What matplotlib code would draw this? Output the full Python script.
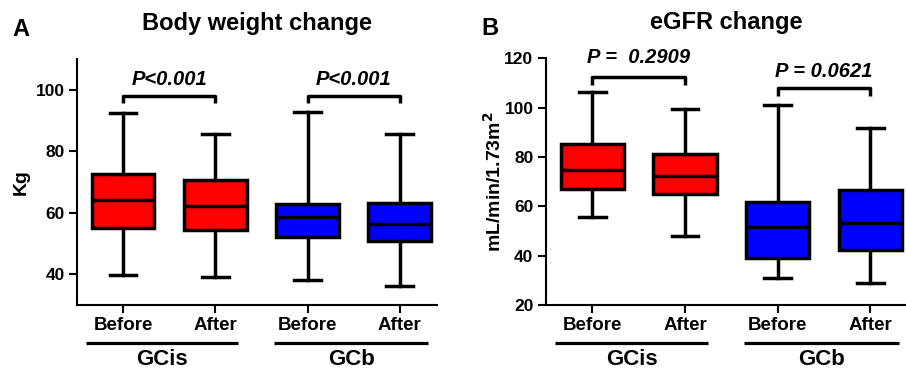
import matplotlib
matplotlib.use("Agg")
from matplotlib import pyplot as plt
from matplotlib import transforms

plt.rcParams['font.family'] = ['Liberation Sans', 'DejaVu Sans']
plt.rcParams['font.weight'] = 'bold'

# data (Before/After for GCis, then GCb)
labels = ["Before", "After", "Before", "After"]
groups = ["GCis", "GCb"]
colors = ["#ff0000", "#ff0000", "#0000ff", "#0000ff"]

bw_whislo = [39.8, 39.1, 38.1, 36.2]
bw_q1 = [55.1, 54.4, 52.1, 50.7]
bw_med = [64.0, 62.1, 58.7, 56.3]
bw_q3 = [72.7, 70.5, 62.8, 63.3]
bw_whishi = [92.4, 85.7, 92.7, 85.5]
bw_pvals = ["P<0.001", "P<0.001"]

eg_whislo = [55.7, 48.0, 30.9, 28.8]
eg_q1 = [67.0, 65.1, 39.0, 42.4]
eg_med = [74.6, 72.4, 51.6, 53.2]
eg_q3 = [85.3, 81.1, 61.9, 66.5]
eg_whishi = [106.3, 99.3, 101.0, 91.8]
eg_pvals = ["P =  0.2909", "P = 0.0621"]


def make_stats(lo, q1, med, q3, hi):
    return [dict(whislo=a, q1=b, med=c, q3=d, whishi=e, fliers=[])
            for a, b, c, d, e in zip(lo, q1, med, q3, hi)]


def draw_panel(ax, stats, pvals, brackets, ylim, yticks, ylabel, labelpad,
               title, letter, letter_x):
    lw = 2.5
    bp = ax.bxp(stats, positions=range(4), widths=0.68, capwidths=0.29,
                patch_artist=True, showfliers=False,
                boxprops=dict(linewidth=lw, edgecolor="black"),
                medianprops=dict(color="black", linewidth=lw),
                whiskerprops=dict(color="black", linewidth=lw),
                capprops=dict(color="black", linewidth=lw))
    for patch, c in zip(bp["boxes"], colors):
        patch.set_facecolor(c)

    ax.set_xlim(-0.5, 3.4)
    ax.set_ylim(*ylim)
    ax.set_yticks(yticks)
    ax.set_xticks(range(4))
    ax.set_xticklabels(labels, fontsize=13.5, fontweight="bold")
    for t in ax.get_yticklabels():
        t.set_fontsize(12.5)
        t.set_fontweight("bold")
    ax.tick_params(direction="out", length=6, width=1.5, pad=3)
    for s in ["top", "right"]:
        ax.spines[s].set_visible(False)
    for s in ["left", "bottom"]:
        ax.spines[s].set_linewidth(1.5)
    ax.set_ylabel(ylabel, fontsize=14, fontweight="bold", labelpad=labelpad)

    # significance brackets
    for (x0, x1), (ytop, yleg, ytxt), p in zip([(0, 1), (2, 3)], brackets, pvals):
        ax.plot([x0, x0, x1, x1], [yleg, ytop, ytop, yleg], color="black",
                linewidth=2.5, solid_capstyle="butt", clip_on=False)
        ax.text((x0 + x1) / 2, ytxt, p, ha="center", va="center",
                fontsize=14.5, fontweight="bold", style="italic")

    # group underlines and names
    trans = transforms.blended_transform_factory(ax.transData, ax.transAxes)
    for (x0, x1), g in zip([(-0.4, 1.25), (1.64, 3.31)], groups):
        ax.plot([x0, x1], [-0.155, -0.155], color="black", linewidth=2.3,
                transform=trans, clip_on=False, solid_capstyle="butt")
        ax.text((x0 + x1) / 2, -0.243, g, transform=trans, ha="center",
                va="baseline", fontsize=16, fontweight="bold")

    ax.text(0.5, 1.145, title, transform=ax.transAxes, fontsize=17,
            fontweight="bold", ha="center", va="center")
    ax.text(letter_x, 1.12, letter, transform=ax.transAxes, fontsize=17,
            fontweight="bold", ha="left", va="center")


fig = plt.figure(figsize=(9.06, 3.70), dpi=100)
ax1 = fig.add_axes([0.085, 0.1757, 0.397, 0.665])
ax2 = fig.add_axes([0.6026, 0.1757, 0.399, 0.667])

draw_panel(ax1, make_stats(bw_whislo, bw_q1, bw_med, bw_q3, bw_whishi), bw_pvals,
           [(97.8, 95.6, 103.2), (97.8, 95.6, 103.2)],
           (30, 110), [40, 60, 80, 100], "Kg", 4, "Body weight change", "A", -0.18)
draw_panel(ax2, make_stats(eg_whislo, eg_q1, eg_med, eg_q3, eg_whishi), eg_pvals,
           [(112.4, 109.0, 120.3), (108.1, 104.7, 114.6)],
           (20, 120), [20, 40, 60, 80, 100, 120], "mL/min/1.73m$^\\mathbf{2}$", 0,
           "eGFR change", "B", -0.18)

fig.savefig("out.png", dpi=100)
